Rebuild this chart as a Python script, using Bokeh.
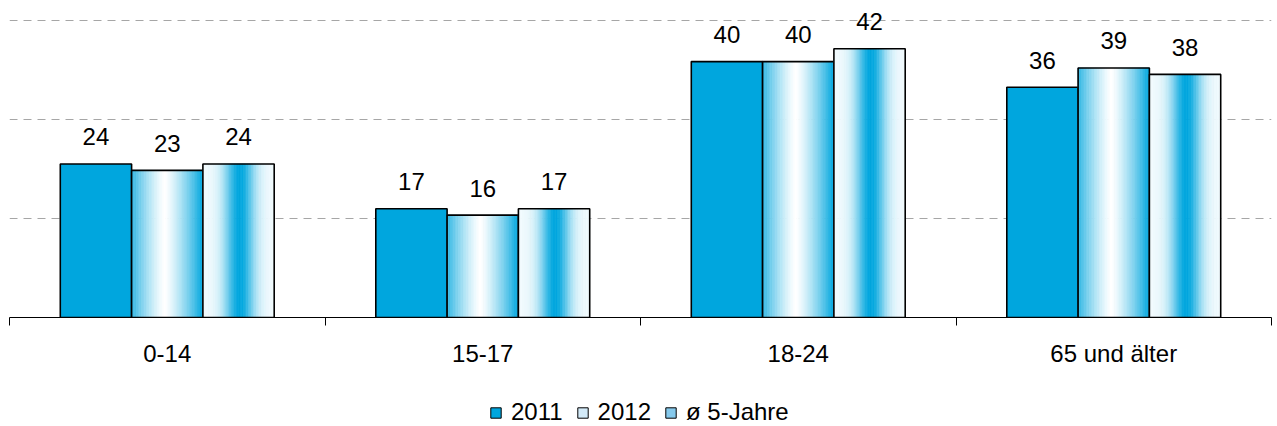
import numpy as np
from bokeh.plotting import figure
from bokeh.layouts import column
from bokeh.models import Range1d, FixedTicker, Legend, LegendItem
from bokeh.core.properties import value
from bokeh.embed import file_html
from bokeh.resources import INLINE

# ---------------- data ----------------
categories = ["0-14", "15-17", "18-24", "65 und älter"]
series_names = ["2011", "2012", "ø 5-Jahre"]
v2011 = [24, 17, 40, 36]
v2012 = [23, 16, 40, 39]
v5yr = [24, 17, 42, 38]
grid_values = [15.5, 31, 46.5]

# ---------------- style ----------------
FONT = "Liberation Sans"
BLUE = np.array([0, 166, 222])
WHITE = np.array([255, 255, 255])
BAR_W = 0.226
N_STRIPS = 44
W = 1277
H_MAIN = 392
H_LEG = 34


def mix(f):
    c = WHITE + (BLUE - WHITE) * f
    return "#%02x%02x%02x" % tuple(int(round(v)) for v in c)


def grad_2012(t):
    # blue at both edges, white in the middle
    c = 0.47
    d = (c - t) / c if t < c else (t - c) / (1 - c)
    f = d ** 1.3
    return min(1.0, f * (0.82 if t < c else 1.0))


def grad_5yr(t):
    # white at edges, blue in the middle
    return 0.05 + 0.95 * np.exp(-((t - 0.52) / 0.21) ** 2)


p = figure(width=W, height=H_MAIN, output_backend="svg", toolbar_location=None,
           x_range=Range1d(0, len(categories)), y_range=Range1d(0, 49.55),
           y_axis_location=None,
           min_border_left=9, min_border_right=6, min_border_top=0,
           min_border_bottom=H_MAIN - 317)
p.outline_line_color = None
p.background_fill_color = "white"
p.border_fill_color = "white"
p.xgrid.visible = False

p.ygrid.ticker = FixedTicker(ticks=grid_values)
p.ygrid.grid_line_color = "#a6a6a6"
p.ygrid.grid_line_dash = "8 6"
p.ygrid.grid_line_width = 1

idx = np.arange(len(categories))
centers = idx + 0.5


def draw_gradient(xc, vals, fn):
    lefts, rights, tops, colors = [], [], [], []
    for i in range(len(vals)):
        x0 = xc[i] - BAR_W / 2
        for k in range(N_STRIPS):
            t = (k + 0.5) / N_STRIPS
            lefts.append(x0 + k * BAR_W / N_STRIPS)
            rights.append(x0 + (k + 1) * BAR_W / N_STRIPS)
            tops.append(vals[i])
            colors.append(mix(fn(t)))
    p.quad(left=lefts, right=rights, bottom=0, top=tops,
           fill_color=colors, line_color=colors, line_width=0.7)
    p.quad(left=xc - BAR_W / 2, right=xc + BAR_W / 2, bottom=0, top=vals,
           fill_color=None, line_color="black", line_width=1.6)


# 2011 solid
x1 = centers - BAR_W
p.quad(left=x1 - BAR_W / 2, right=x1 + BAR_W / 2, bottom=0, top=v2011,
       fill_color=mix(1.0), line_color="black", line_width=1.6)
# 2012 gradient
x2 = centers
draw_gradient(x2, v2012, grad_2012)
# 5-year gradient
x3 = centers + BAR_W
draw_gradient(x3, v5yr, grad_5yr)

# data labels
for xs, vals in ((x1, v2011), (x2, v2012), (x3, v5yr)):
    p.text(x=xs, y=vals, text=[str(v) for v in vals], text_align="center",
           text_baseline="alphabetic", y_offset=-27,
           text_font=value(FONT), text_font_size="24px", text_color="black")

# x axis: labels at centers, ticks at category boundaries
ax = p.xaxis[0]
ax.ticker = FixedTicker(ticks=list(centers), minor_ticks=list(range(len(categories) + 1)))
ax.major_label_overrides = {float(c): lab for c, lab in zip(centers, categories)}
ax.major_tick_in = 0
ax.major_tick_out = 0
ax.minor_tick_in = 0
ax.minor_tick_out = 8
ax.minor_tick_line_color = "black"
ax.axis_line_color = "black"
ax.axis_line_width = 1
ax.major_label_standoff = 14
ax.major_label_text_font = FONT
ax.major_label_text_font_size = "24px"
ax.major_label_text_color = "black"

# ---------------- legend strip ----------------
pl = figure(width=W, height=H_LEG, output_backend="svg", toolbar_location=None,
            x_range=Range1d(0, 1), y_range=Range1d(0, 1),
            x_axis_location=None, y_axis_location=None,
            min_border_left=9, min_border_right=6, min_border_top=0,
            min_border_bottom=0)
pl.outline_line_color = None
pl.grid.visible = False
pl.border_fill_color = "white"

sw_colors = [mix(1.0), "#d3eaf8", "#86c9ec"]
items = []
for name, col in zip(series_names, sw_colors):
    # legend-only swatch: NaN geometry, so nothing is drawn in the strip itself
    r = pl.quad(left=[np.nan], right=[np.nan], bottom=[np.nan], top=[np.nan],
                fill_color=col, line_color="black", line_width=1)
    items.append(LegendItem(label=name, renderers=[r]))

legend = Legend(items=items, orientation="horizontal", location=(480, 0),
                glyph_width=13, glyph_height=13, label_standoff=9, spacing=13,
                padding=0, margin=0, border_line_color=None,
                background_fill_alpha=0,
                label_text_font=FONT, label_text_font_size="24px",
                label_text_color="black")
pl.add_layout(legend, "center")

layout = column(p, pl, spacing=0)
open("out.html", "w").write(file_html(layout, INLINE))
